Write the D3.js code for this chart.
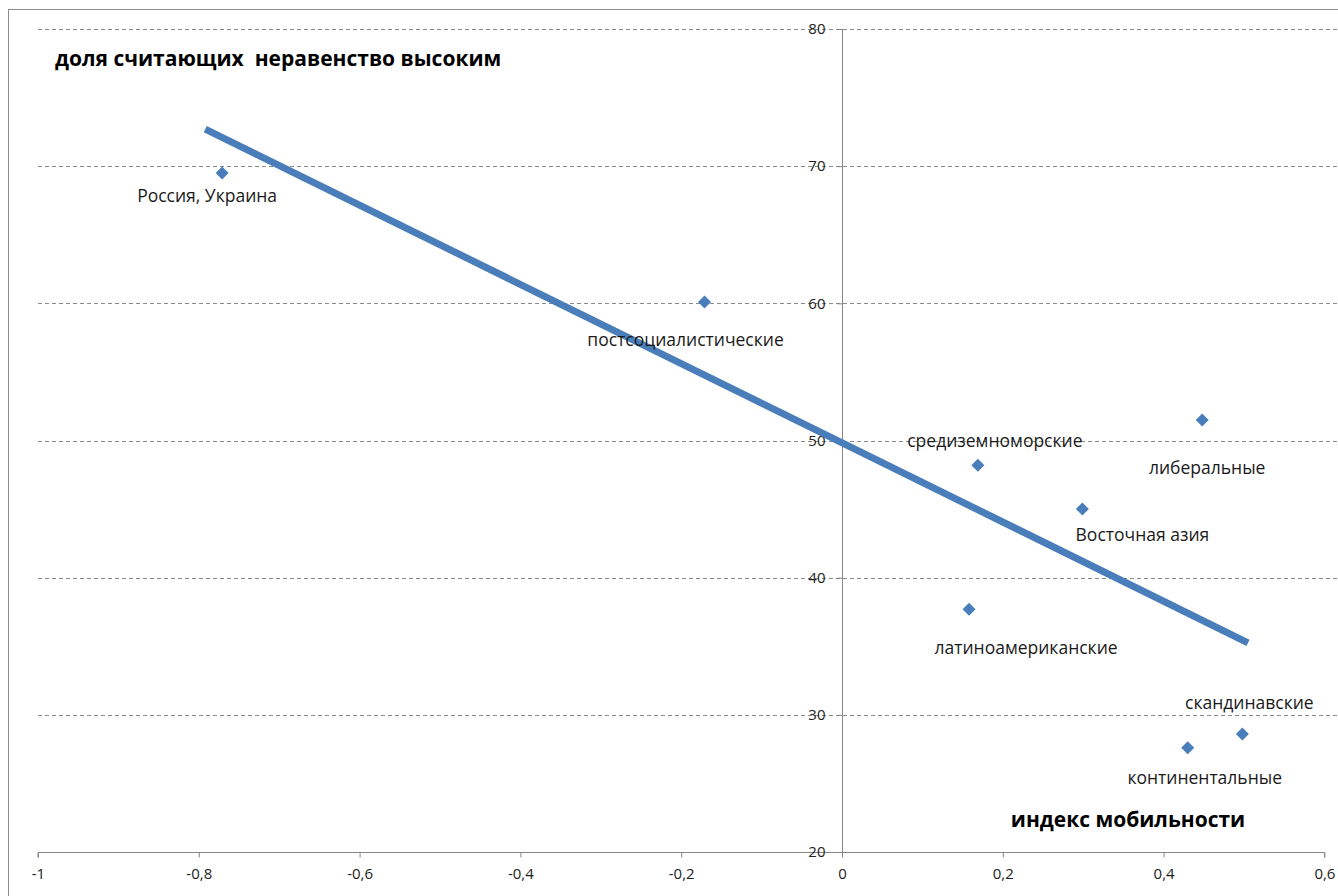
<!DOCTYPE html>
<html><head><meta charset="utf-8">
<script src="https://cdn.jsdelivr.net/npm/d3@7"></script>
<style>
html,body{margin:0;padding:0;background:#fff;}
svg{display:block;}
text{font-family:"Open Sans","Noto Sans",sans-serif;}
</style></head>
<body>
<svg id="chart" width="1338" height="896"></svg>
<script>
// ---- data ----
const groups = ["Россия, Украина","постсоциалистические","средиземноморские","либеральные","Восточная азия","латиноамериканские","скандинавские","континентальные"];
const mobility = [-0.771, -0.171, 0.169, 0.448, 0.299, 0.158, 0.498, 0.430];
const inequality = [69.5, 60.1, 48.2, 51.5, 45.0, 37.7, 28.6, 27.6];
// linear trendline, start and end
const trendX = [-0.792, 0.505];
const trendY = [72.7, 35.25];
const xTicks = [-1,-0.8,-0.6,-0.4,-0.2,0,0.2,0.4,0.6];
const yTicks = [20,30,40,50,60,70,80];
const yTitle = "доля считающих  неравенство высоким";
const xTitle = "индекс мобильности";

// label offsets (px) relative to point: [dx, dy] center/baseline
const labelOffsets = [[-15,29],[-19,44],[17,-18],[5,54],[60,32],[57,45],[7,-25],[17,36]];

const svg = d3.select("#chart");
const x = d3.scaleLinear().domain([-1,0.6]).range([38,1324.4]);
const y = d3.scaleLinear().domain([20,80]).range([852,29]);
const axisColor = "#878787";

// outer frame
svg.append("rect").attr("x",8.5).attr("y",9.5).attr("width",1400).attr("height",1000)
  .attr("fill","none").attr("stroke","#8c8c8c").attr("stroke-width",1);

// gridlines
svg.append("g").selectAll("line").data(yTicks.filter(d=>d!==20)).join("line")
  .attr("x1",x(-1)).attr("x2",1338)
  .attr("y1",d=>Math.round(y(d))+0.5).attr("y2",d=>Math.round(y(d))+0.5)
  .attr("stroke","#8a8a8a").attr("stroke-width",1).attr("stroke-dasharray","4,3");

// x axis at y=20
const xAxis = d3.axisBottom(x).tickValues(xTicks).tickSize(5).tickPadding(11)
  .tickFormat(d=>d3.format("")(d).replace(".",",").replace("−","-"));
const gx = svg.append("g").attr("transform",`translate(0,${Math.round(y(20))+0.5})`).call(xAxis);
gx.select(".domain").attr("stroke",axisColor).attr("d",`M${x(-1)},5V0H${x(0.6)}V5`);
gx.selectAll(".tick line").attr("stroke",axisColor);
gx.selectAll(".tick text").attr("fill","#222").style("font-size","15px");

// y axis at x=0
const yAxis = d3.axisLeft(y).tickValues(yTicks).tickSize(5).tickPadding(12).tickFormat(d3.format("d"));
const gy = svg.append("g").attr("transform",`translate(${Math.round(x(0))+0.5},0)`).call(yAxis);
gy.select(".domain").attr("stroke",axisColor).attr("d",`M0,${y(80)}V${y(20)}`);
gy.selectAll(".tick line").attr("stroke",axisColor);
gy.selectAll(".tick text").attr("fill","#222").style("font-size","15px");

// trendline
svg.append("line")
  .attr("x1",x(trendX[0])).attr("y1",y(trendY[0]))
  .attr("x2",x(trendX[1])).attr("y2",y(trendY[1]))
  .attr("stroke","#4a7ebb").attr("stroke-width",7).attr("stroke-linecap","butt");

// points
const pts = groups.map((g,i)=>({g, x:mobility[i], y:inequality[i], off:labelOffsets[i]}));
svg.append("g").selectAll("path").data(pts).join("path")
  .attr("transform",d=>`translate(${x(d.x)},${y(d.y)})`)
  .attr("d","M0,-6.5L6.5,0L0,6.5L-6.5,0Z")
  .attr("fill","#4a7ebb");

// labels
svg.append("g").selectAll("text").data(pts).join("text")
  .attr("x",d=>x(d.x)+d.off[0]).attr("y",d=>y(d.y)+d.off[1])
  .attr("text-anchor","middle").attr("fill","#1a1a1a")
  .style("font-size","17.5px")
  .text(d=>d.g);

// titles
svg.append("text").attr("x",55).attr("y",66).attr("fill","#000")
  .style("font-size","21px").style("font-weight","bold").style("white-space","pre")
  .attr("xml:space","preserve").text(yTitle);
svg.append("text").attr("x",1128).attr("y",827).attr("text-anchor","middle").attr("fill","#000")
  .style("font-size","21px").style("font-weight","bold").text(xTitle);
</script>
</body></html>
